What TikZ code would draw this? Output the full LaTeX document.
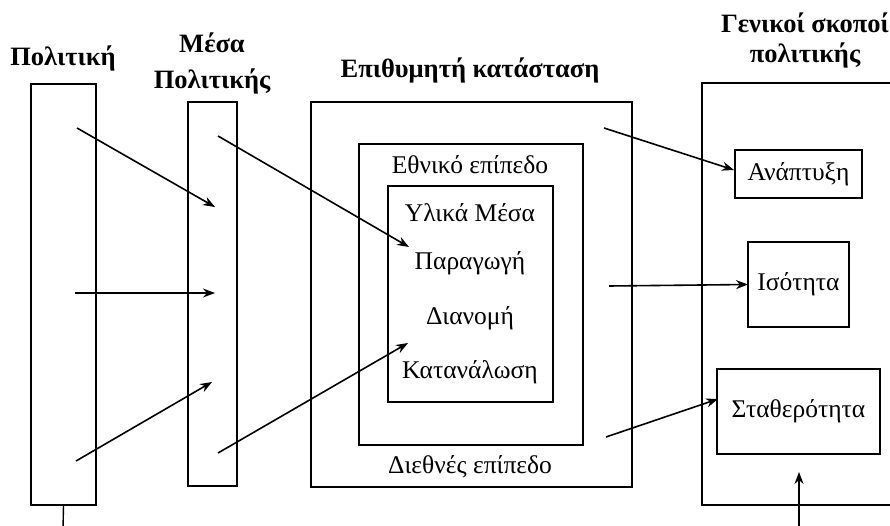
\documentclass[tikz,border=0pt]{standalone}
\usepackage{fontspec}
\setmainfont{Liberation Serif}
\usetikzlibrary{arrows.meta}
\tikzset{
  boxx/.style={draw, line width=2pt, inner sep=0pt, outer sep=0pt, anchor=north west},
  arr/.style={-{Stealth[length=12pt,width=9pt]}, line width=1.6pt},
  plain/.style={line width=2pt},
  ttl/.style={font=\bfseries\fontsize{26.5}{29}\selectfont, inner sep=0pt},
  lbl/.style={font=\fontsize{25.5}{27}\selectfont, inner sep=0pt},
}
\begin{document}
\begin{tikzpicture}[x=1pt,y=-1pt]
\useasboundingbox (0,0) rectangle (890,526);
\clip (0,0) rectangle (890,526);
% boxes
\node[boxx, minimum width=65, minimum height=421] (pol) at (31,84) {};
\node[boxx, minimum width=49, minimum height=384] (mesa) at (188,102) {};
\node[boxx, minimum width=321, minimum height=385] (outer) at (311,102) {};
\node[boxx, minimum width=224, minimum height=301] (mid) at (359,144) {};
\node[boxx, minimum width=165, minimum height=216] (inn) at (388,186) {};
\coordinate (gtl) at (702,83);
\coordinate (gtr) at (900,83);
\coordinate (gbr) at (900,505);
\draw[plain] (gtr) -- (gtl) |- (gbr);
\node[boxx, minimum width=127, minimum height=48] (anap) at (735,150) {};
\node[boxx, minimum width=101, minimum height=85] (isot) at (748,242) {};
\node[boxx, minimum width=163, minimum height=85] (stath) at (717,369) {};
% titles
\node[ttl] (tpol) at (63,58) {Πολιτική};
\node[ttl, align=center, font=\bfseries\fontsize{26.5}{36}\selectfont] (tmesa) at (212,63) {Μέσα\\Πολιτικής};
\node[ttl] (tepi) at (470,70) {Επιθυμητή κατάσταση};
\node[ttl, align=center, font=\bfseries\fontsize{26.5}{30}\selectfont] (tgen) at (805,40) {Γενικοί σκοποί\\πολιτικής};
% labels
\node[lbl] (eth) at (470,165) {Εθνικό επίπεδο};
\node[lbl] (yli) at (470,213) {Υλικά Μέσα};
\node[lbl] (par) at (470,263) {Παραγωγή};
\node[lbl] (dia) at (470,318) {Διανομή};
\node[lbl] (kat) at (470,372) {Κατανάλωση};
\node[lbl] (die) at (470,467) {Διεθνές επίπεδο};
\node[lbl] (lanap) at (anap.center) {Ανάπτυξη};
\node[lbl] (lisot) at (isot.center) {Ισότητα};
\node[lbl] (lstath) at (stath.center) {Σταθερότητα};
% arrow ends
\coordinate (a1s) at (77,128);   \coordinate (a1e) at (215,207);
\coordinate (a2s) at (75,293);   \coordinate (a2e) at (215,293);
\coordinate (a3s) at (76,461);   \coordinate (a3e) at (212,382);
\coordinate (a4s) at (218,136);  \coordinate (a4e) at (409,247);
\coordinate (a5s) at (218,453);  \coordinate (a5e) at (408,343);
\coordinate (a6s) at (604,128);  \coordinate (a6e) at (734,170);
\coordinate (a7s) at (609,286);
\coordinate (a8s) at (606,437);  \coordinate (a8e) at (718,399);
\coordinate (a9s) at (799,530);  \coordinate (a9e) at (799,472);
\coordinate (pdown) at (63,530);
\draw[arr] (a1s) -- (a1e);
\draw[arr] (a2s) -- (a2e);
\draw[arr] (a3s) -- (a3e);
\draw[arr] (a4s) -- (a4e);
\draw[arr] (a5s) -- (a5e);
\draw[arr] (a6s) -- (a6e);
\draw[arr] (a7s) -- (isot.west);
\draw[arr] (a8s) -- (a8e);
\draw[arr] (a9s) -- (a9e);
\draw[line width=1.4pt] (pol.south) -- (pdown);
\end{tikzpicture}
\end{document}
